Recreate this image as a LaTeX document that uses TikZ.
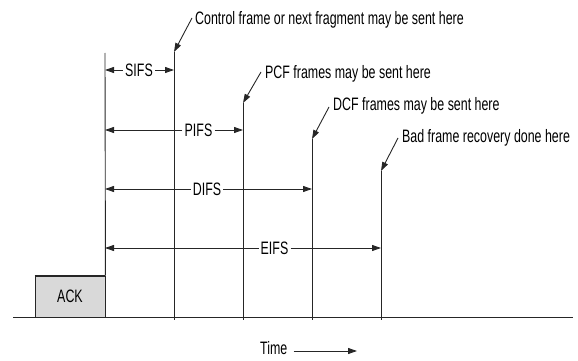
\documentclass[tikz,border=0pt]{standalone}
\usepackage{fontspec}
\setmainfont{Liberation Sans}[FakeStretch=0.69]
\usetikzlibrary{arrows.meta}
\begin{document}
\begin{tikzpicture}[x=1pt,y=-1pt,
  ln/.style={line width=0.9pt, draw=black!85},
  tip/.style={-{Triangle[length=9pt,width=6pt]}},
  txt/.style={font=\fontsize{18}{18}\selectfont, inner sep=0pt, anchor=west},
  dim/.style={font=\fontsize{18}{18}\selectfont, fill=white, inner xsep=2pt, inner ysep=1pt},
  ackbox/.style={draw=black!85, line width=0.9pt, fill=black!15, minimum width=70pt, minimum height=41pt, inner sep=0pt, font=\fontsize{18}{18}\selectfont}]
\useasboundingbox (0,0) rectangle (578,361);
% timeline
\coordinate (bl) at (13,317);
\coordinate (br) at (573,317);
\draw[ln] (bl) -- (br);
% ACK frame
\node[ackbox] (ack) at (70,296.5) {ACK};
\draw[line width=1.6pt, draw=black!85] (ack.north west) -- (ack.north east);
% vertical markers
\coordinate (a0) at (105,53);
\coordinate (a1) at (174,52);
\coordinate (a1b) at (174,320);
\coordinate (a2) at (243,103);
\coordinate (a2b) at (243,320);
\coordinate (a3) at (312,139);
\coordinate (a3b) at (312,320);
\coordinate (a4) at (381,171);
\coordinate (a4b) at (381,320);
\draw[ln] (a0) -- (ack.north east);
\draw[ln] (a1) -- (a1b);
\draw[ln] (a2) -- (a2b);
\draw[ln] (a3) -- (a3b);
\draw[ln] (a4) -- (a4b);
% interval dimensions
\node[dim] (sifs) at (139,70) {SIFS};
\draw[ln,tip] (sifs.west) -- (a0 |- sifs);
\draw[ln,tip] (sifs.east) -- (a1 |- sifs);
\node[dim] (pifs) at (198.5,130) {PIFS};
\draw[ln,tip] (pifs.west) -- (a0 |- pifs);
\draw[ln,tip] (pifs.east) -- (a2 |- pifs);
\node[dim] (difs) at (207,189) {DIFS};
\draw[ln,tip] (difs.west) -- (a0 |- difs);
\draw[ln,tip] (difs.east) -- (a3 |- difs);
\node[dim] (eifs) at (274.5,248) {EIFS};
\draw[ln,tip] (eifs.west) -- (a0 |- eifs);
\draw[ln,tip] (eifs.east) -- (a4 |- eifs);
% annotations
\node[txt] (t1) at (195,20) {Control frame or next fragment may be sent here};
\draw[ln,tip] ([shift={(-3,-2)}]t1.west) -- (a1);
\node[txt] (t2) at (265,74) {PCF frames may be sent here};
\draw[ln,tip] ([shift={(-4,-2)}]t2.west) -- (a2);
\node[txt] (t3) at (333,106) {DCF frames may be sent here};
\draw[ln,tip] ([shift={(-4,1)}]t3.west) -- (a3);
\node[txt] (t4) at (402,138) {Bad frame recovery done here};
\draw[ln,tip] ([shift={(-4,0)}]t4.west) -- (a4);
% time axis label
\node[txt] (time) at (260,348) {Time};
\coordinate (tend) at (357,351);
\draw[ln,tip] ([xshift=6pt]time.east |- tend) -- (tend);
\end{tikzpicture}
\end{document}
